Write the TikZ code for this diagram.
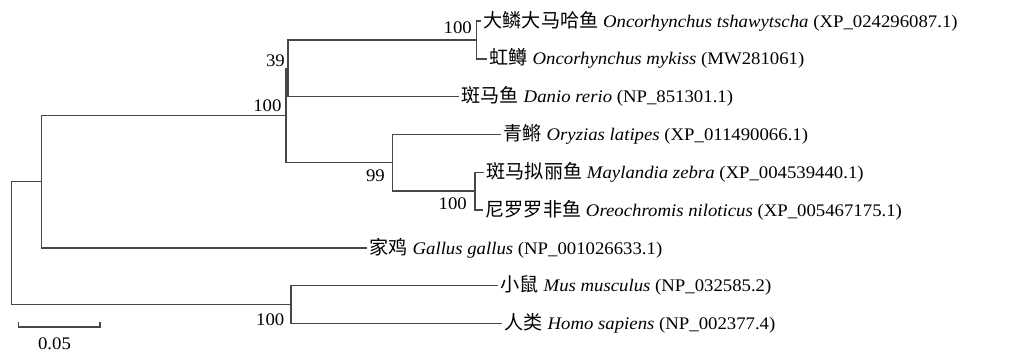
\documentclass[tikz,border=0pt]{standalone}
\usepackage{fontspec}
\setmainfont[FakeStretch=1.06]{Liberation Serif}
\newfontfamily\cjk[Scale=1.08]{Noto Sans CJK SC}
\begin{document}
\begin{tikzpicture}[x=1pt,y=-1pt,
  font=\fontsize{17.7pt}{19pt}\selectfont,
  branch/.style={draw=black!72,line width=1.4pt,line cap=rect},
  tiplabel/.style={anchor=west,inner sep=3.5pt},
  boot/.style={anchor=base east,inner sep=0pt}]
\useasboundingbox (0,0) rectangle (1027,354);
% internal nodes
\coordinate (D) at (476.5,39.9);
\coordinate (C) at (288,68.25);
\coordinate (F) at (475,191.1);
\coordinate (E) at (392.3,162.75);
\coordinate (B) at (286,115.5);
\coordinate (A) at (41.3,181.65);
\coordinate (G) at (291,304.5);
\coordinate (R) at (11.7,243.1);
% tips
\coordinate (t0) at (480,21);
\coordinate (t1) at (486,58.8);
\coordinate (t2) at (458,96.6);
\coordinate (t3) at (500,134.4);
\coordinate (t4) at (483,172.2);
\coordinate (t5) at (482,210);
\coordinate (t6) at (366,247.8);
\coordinate (t7) at (497,285.6);
\coordinate (t8) at (501,323.4);
% branches
\draw[branch] (R) |- (A);
\draw[branch] (R) |- (G);
\draw[branch] (A) |- (B);
\draw[branch] (A) |- (t6);
\draw[branch] (B) |- (C);
\draw[branch] (B) |- (E);
\draw[branch] (C) |- (D);
\draw[branch] (C) |- (t2);
\draw[branch] (D) |- (t0);
\draw[branch] (D) |- (t1);
\draw[branch] (E) |- (t3);
\draw[branch] (E) |- (F);
\draw[branch] (F) |- (t4);
\draw[branch] (F) |- (t5);
\draw[branch] (G) |- (t7);
\draw[branch] (G) |- (t8);
% tip labels
\node[tiplabel] (l0) at (t0) {{\cjk 大鳞大马哈鱼} \textit{Oncorhynchus tshawytscha} (XP\_024296087.1)};
\node[tiplabel] (l1) at (t1) {{\cjk 虹鳟} \textit{Oncorhynchus mykiss} (MW281061)};
\node[tiplabel] (l2) at (t2) {{\cjk 斑马鱼} \textit{Danio rerio} (NP\_851301.1)};
\node[tiplabel] (l3) at (t3) {{\cjk 青鳉} \textit{Oryzias latipes} (XP\_011490066.1)};
\node[tiplabel] (l4) at (t4) {{\cjk 斑马拟丽鱼} \textit{Maylandia zebra} (XP\_004539440.1)};
\node[tiplabel] (l5) at (t5) {{\cjk 尼罗罗非鱼} \textit{Oreochromis niloticus} (XP\_005467175.1)};
\node[tiplabel] (l6) at (t6) {{\cjk 家鸡} \textit{Gallus gallus} (NP\_001026633.1)};
\node[tiplabel] (l7) at (t7) {{\cjk 小鼠} \textit{Mus musculus} (NP\_032585.2)};
\node[tiplabel] (l8) at (t8) {{\cjk 人类} \textit{Homo sapiens} (NP\_002377.4)};
% bootstrap values
\node[boot] (bD) at (472,33.5) {100};
\node[boot] (bC) at (285,66) {39};
\node[boot] (bB) at (281.7,111.7) {100};
\node[boot] (bE) at (385,181.7) {99};
\node[boot] (bF) at (467,209) {100};
\node[boot] (bG) at (284.5,325) {100};
% scale bar
\coordinate (sL) at (18.5,327);
\coordinate (sR) at (100,327);
\draw[branch,line cap=butt] ([yshift=5pt]sL) -- (sL) -- (sR) -- ([yshift=5pt]sR);
\node[boot,anchor=base] (sbl) at (54.5,349.3) {0.05};
\end{tikzpicture}
\end{document}
